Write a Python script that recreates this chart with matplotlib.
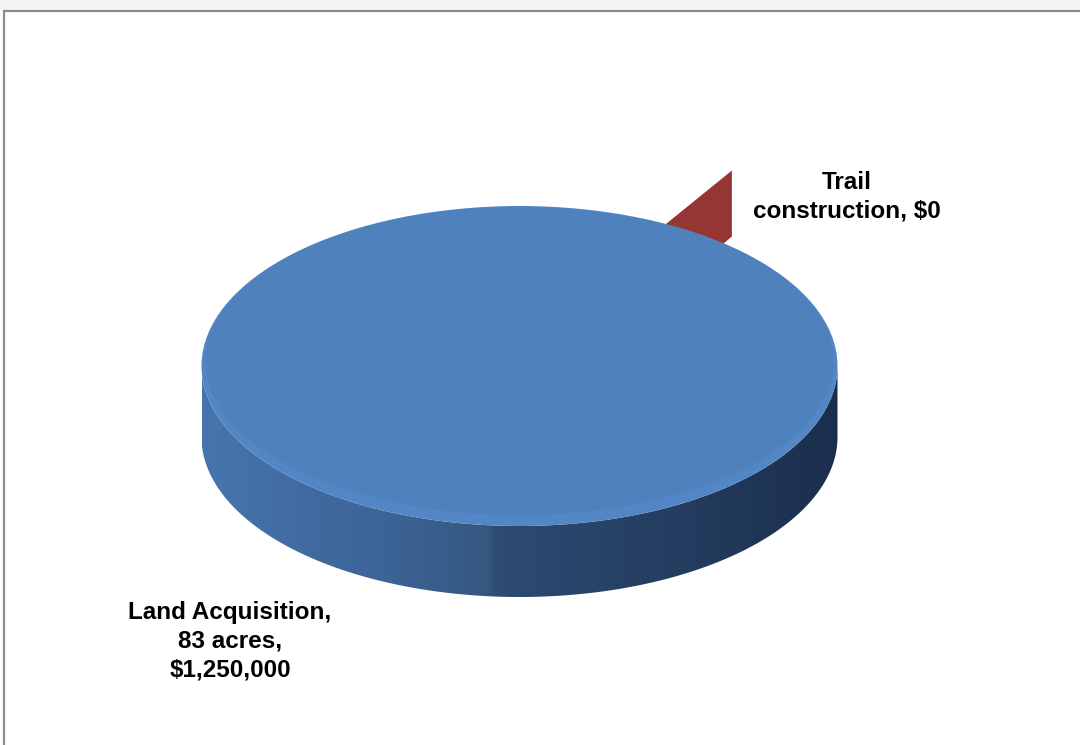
import numpy as np
import matplotlib
matplotlib.use("Agg")
import matplotlib.pyplot as plt
from matplotlib.patches import Polygon, Ellipse, Rectangle
from matplotlib.colors import LinearSegmentedColormap

# ---- data ----
categories = ["Land Acquisition,\n83 acres,", "Trail\nconstruction,"]
amounts = [1250000, 0]
label_values = ["$1,250,000", "$0"]
colors = ["#4F81BD", "#963634"]

# ---- layout / style ----
W, H = 1080, 745
cx, cy = 519.5, 366.0      # centre of top face
a, b = 318.0, 160.0        # semi-axes of the top face
depth = 71.0               # thickness of the pie
start_angle = 58.2         # degrees, counter-clockwise from 3 o'clock
explode_xy = (85.0, 70.0)  # offset of the exploded (zero) slice

fig = plt.figure(figsize=(W / 100, H / 100), dpi=100)
ax = fig.add_axes([0, 0, 1, 1])
ax.set_xlim(0, W)
ax.set_ylim(H, 0)
ax.axis("off")

# frame
ax.add_patch(Rectangle((0, 0), W, 10, facecolor="#f5f5f5", edgecolor="none", zorder=0))
ax.add_patch(Rectangle((3.5, 10.5), W + 20, H + 20, facecolor="white",
                       edgecolor="#8c8c8c", linewidth=1.6, zorder=0.5))

total = sum(amounts)
fracs = [v / total for v in amounts]
bounds = start_angle + 360 * np.concatenate([[0], np.cumsum(fracs)])

# ---- zero-width (exploded) slices: draw their radial wall faces ----
for i, f in enumerate(fracs):
    if f == 0:
        th = np.deg2rad(bounds[i])
        ctop = np.array([cx + explode_xy[0] * np.cos(th), cy - explode_xy[1] * np.sin(th)])
        rtop = ctop + np.array([a * np.cos(th), -b * np.sin(th)])
        poly = [ctop, rtop, rtop + [0, depth - 5], ctop + [0, depth]]
        ax.add_patch(Polygon(poly, closed=True, facecolor=colors[i],
                             edgecolor="none", zorder=1))

# ---- main slice (full disc) ----
big = int(np.argmax(fracs))
t = np.linspace(np.pi, 0, 400)
top_arc = np.column_stack([cx + a * np.cos(t), cy + b * np.sin(t)])
bot_arc = top_arc[::-1] + [0, depth]
wall = Polygon(np.vstack([top_arc, bot_arc]), closed=True, facecolor="none",
               edgecolor="none", zorder=2)
ax.add_patch(wall)

wall_cmap = LinearSegmentedColormap.from_list(
    "wall", [(0.0, "#4675AD"), (0.3, "#3C6396"), (0.45, "#35587F"),
             (0.46, "#2E4B73"), (0.75, "#243D60"), (1.0, "#1B2E4D")])
grad = np.linspace(0, 1, 512)[None, :]
im = ax.imshow(grad, cmap=wall_cmap, aspect="auto",
               extent=(cx - a, cx + a, cy + b + depth + 5, cy - 5), zorder=2)
im.set_clip_path(wall)

# top face with a soft lighter rim towards the front
ax.add_patch(Ellipse((cx, cy), 2 * a, 2 * b, facecolor="#5286C4",
                     edgecolor="none", zorder=3))
ax.add_patch(Ellipse((cx, cy - 5), 2 * a - 8, 2 * b - 12, facecolor=colors[big],
                     edgecolor="none", zorder=3.1))

# ---- labels ----
font = dict(family=["Liberation Sans", "DejaVu Sans"], fontsize=17.5,
            fontweight="bold", color="black", ha="center", va="center",
            linespacing=1.33)
ax.text(230, 641, f"{categories[0]}\n{label_values[0]}", zorder=5, **font)
ax.text(847, 197, f"{categories[1]} {label_values[1]}", zorder=5, **font)

fig.savefig("out.png", dpi=100)
